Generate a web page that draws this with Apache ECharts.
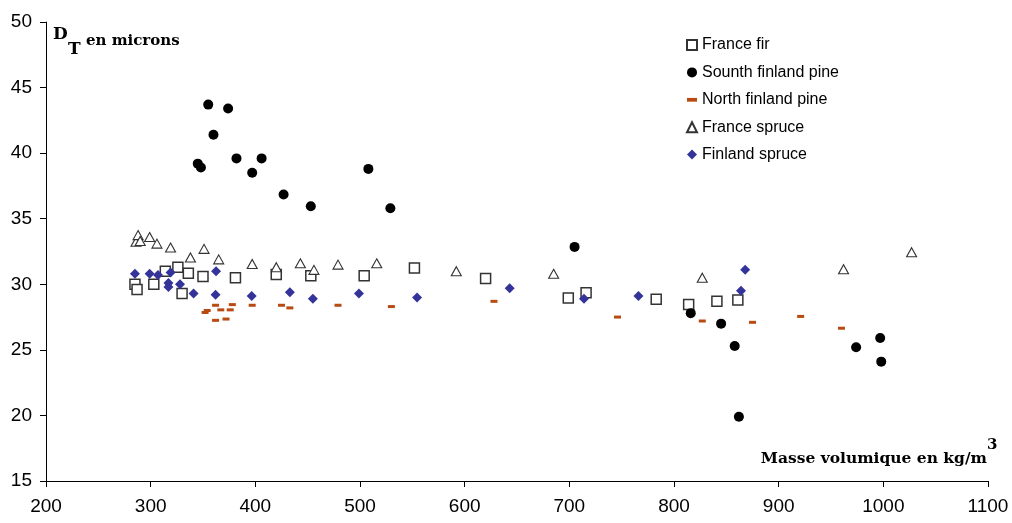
<!DOCTYPE html>
<html>
<head>
<meta charset="utf-8">
<script src="https://cdn.jsdelivr.net/npm/echarts@6/dist/echarts.min.js"></script>
<style>html,body{margin:0;padding:0;background:#fff}#c{width:1012px;height:523px}</style>
</head>
<body>
<div id="c"></div>
<script>
// ---- data ----
const xTicks = [200, 300, 400, 500, 600, 700, 800, 900, 1000, 1100];
const yTicks = [15, 20, 25, 30, 35, 40, 45, 50];
const seriesNames = ['France fir', 'Sounth finland pine', 'North finland pine', 'France spruce', 'Finland spruce'];

const franceFir = [
  [285,30.0],[287,29.6],[303,30.0],[314,31.0],[326,31.3],[330,29.3],[336,30.85],[350,30.6],
  [381,30.5],[420,30.75],[453,30.65],[504,30.65],[552,31.25],[620,30.45],[699,28.95],
  [716,29.35],[783,28.85],[814,28.45],[841,28.7],[861,28.8]
];
const southFinlandPine = [
  [345,39.2],[348,38.9],[355,43.7],[360,41.4],[374,43.4],[382,39.6],[397,38.5],[406,39.6],
  [427,36.85],[453,35.95],[508,38.8],[529,35.8],[705,32.85],[816,27.8],[845,27.0],
  [858,25.3],[862,19.9],[974,25.2],[997,25.9],[998,24.1]
];
const northFinlandPine = [
  [352,27.85],[354,28.0],[362,28.4],[362,27.25],[367,28.05],[372,27.35],[376,28.05],[378,28.45],
  [397,28.4],[425,28.4],[433,28.2],[479,28.4],[530,28.3],[628,28.7],[746,27.5],[827,27.2],
  [875,27.1],[921,27.55],[960,26.65]
];
const franceSpruce = [
  [286,33.25],[288,33.75],[290,33.3],[299,33.6],[306,33.1],[319,32.8],[338,32.05],[351,32.7],
  [365,31.9],[397,31.55],[420,31.3],[443,31.6],[456,31.1],[479,31.5],[516,31.6],[592,31.0],
  [685,30.8],[827,30.5],[962,31.15],[1027,32.45]
];
const finlandSpruce = [
  [285,30.8],[299,30.8],[307,30.7],[317,30.1],[317,29.8],[319,30.9],[328,30.0],[341,29.3],
  [362,29.2],[362.5,31.0],[396.5,29.1],[433,29.4],[455,28.9],[499,29.3],[554.5,29.0],
  [643,29.7],[714,28.9],[766,29.1],[864,29.5],[868,31.1]
];

const chart = echarts.init(document.getElementById('c'), null, {renderer: 'canvas'});
const axisFont = {fontFamily: 'Liberation Sans, Arial, sans-serif', fontSize: 19, color: '#000'};
const serifBold = 'DejaVu Serif, Liberation Serif, serif';

chart.setOption({
  animation: false,
  backgroundColor: '#fff',
  grid: {left: 46, right: 24, top: 22, bottom: 42, containLabel: false},
  xAxis: {
    type: 'value', min: xTicks[0], max: xTicks[xTicks.length - 1], interval: 100,
    axisLine: {show: true, lineStyle: {color: '#000', width: 1}},
    axisTick: {show: true, inside: false, length: 6, lineStyle: {color: '#000'}},
    splitLine: {show: false},
    axisLabel: Object.assign({margin: 16, formatter: v => String(v)}, axisFont)
  },
  yAxis: {
    type: 'value', min: yTicks[0], max: yTicks[yTicks.length - 1], interval: 5,
    axisLine: {show: true, lineStyle: {color: '#000', width: 1}},
    axisTick: {show: true, inside: false, length: 6, lineStyle: {color: '#000'}},
    splitLine: {show: false},
    axisLabel: Object.assign({margin: 14, formatter: v => String(v)}, axisFont)
  },
  legend: {
    orient: 'vertical', left: 681, top: 32,
    itemWidth: 10, itemHeight: 10, itemGap: 11.4,
    textStyle: {fontFamily: 'Liberation Sans, Arial, sans-serif', fontSize: 16, color: '#000'},
    data: [
      {name: seriesNames[0]},
      {name: seriesNames[1]},
      {name: seriesNames[2], icon: 'path://M0,0h8v3h-8z'},
      {name: seriesNames[3]},
      {name: seriesNames[4]}
    ]
  },
  series: [
    {name: seriesNames[0], type: 'scatter', data: franceFir, symbol: 'rect', symbolSize: 10,
      itemStyle: {color: '#fff', borderColor: '#333', borderWidth: 1.5, opacity: 1}, z: 2},
    {name: seriesNames[1], type: 'scatter', data: southFinlandPine, symbol: 'circle', symbolSize: 10,
      itemStyle: {color: '#000', opacity: 1}, z: 3},
    {name: seriesNames[2], type: 'scatter', data: northFinlandPine, symbol: 'rect', symbolSize: [7, 3],
      itemStyle: {color: '#b84a12', opacity: 1}, z: 3},
    {name: seriesNames[3], type: 'scatter', data: franceSpruce, symbol: 'triangle', symbolSize: [10, 9],
      itemStyle: {color: '#fff', borderColor: '#333', borderWidth: 1.1, opacity: 1}, z: 2},
    {name: seriesNames[4], type: 'scatter', data: finlandSpruce, symbol: 'diamond', symbolSize: 10,
      itemStyle: {color: '#333399', opacity: 1}, z: 4}
  ],
  graphic: [
    {type: 'text', left: 53, top: 26, style: {text: 'D', font: 'bold 17px ' + serifBold, fill: '#000'}},
    {type: 'text', left: 68, top: 41, style: {text: 'T', font: 'bold 17px ' + serifBold, fill: '#000'}},
    {type: 'text', left: 86, top: 34, style: {text: 'en microns', font: 'bold 15px ' + serifBold, fill: '#000'}},
    {type: 'text', right: 25, top: 451, style: {text: 'Masse volumique en kg/m', font: 'bold 15.5px ' + serifBold, fill: '#000'}},
    {type: 'text', left: 987, top: 438, style: {text: '3', font: 'bold 15px ' + serifBold, fill: '#000'}}
  ]
});
</script>
</body>
</html>
